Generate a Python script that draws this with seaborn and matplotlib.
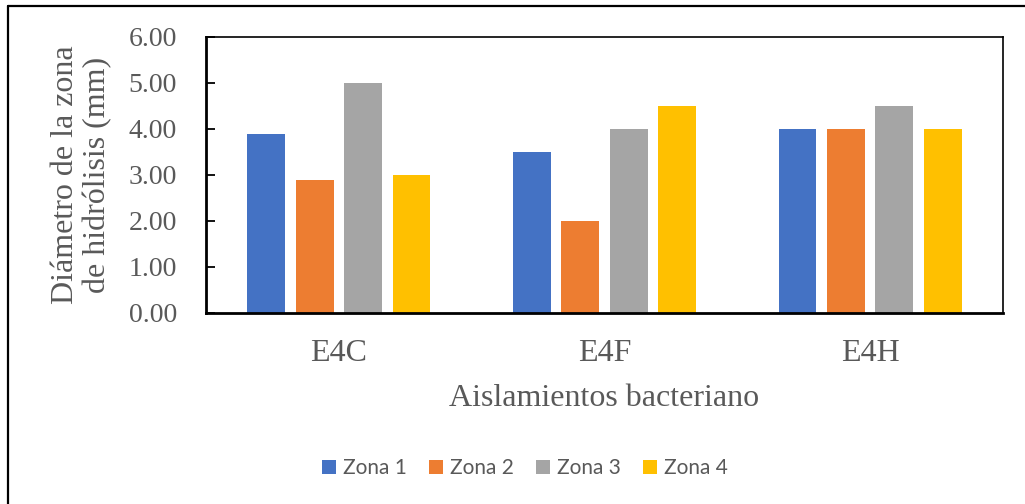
from __future__ import annotations

import matplotlib

matplotlib.use("Agg")
import matplotlib.pyplot as plt
import pandas as pd
import seaborn as sns
from matplotlib.lines import Line2D
from matplotlib.ticker import FormatStrFormatter

OUT_FILE = "out.png"

ISOLATES = ["E4C", "E4F", "E4H"]
ZONES = ["Zona 1", "Zona 2", "Zona 3", "Zona 4"]
ZONA_1 = [3.9, 3.5, 4.0]
ZONA_2 = [2.9, 2.0, 4.0]
ZONA_3 = [5.0, 4.0, 4.5]
ZONA_4 = [3.0, 4.5, 4.0]
Y_TICKS = [0, 1, 2, 3, 4, 5, 6]

COLORS = ["#4472C4", "#ED7D31", "#A5A5A5", "#FFC000"]
TEXT_GREY = "#595959"
SERIF = ["Liberation Serif", "DejaVu Serif"]


def build_data() -> pd.DataFrame:
    rows = []
    for zone, values in zip(ZONES, [ZONA_1, ZONA_2, ZONA_3, ZONA_4]):
        for isolate, value in zip(ISOLATES, values):
            rows.append({"aislamiento": isolate, "zona": zone, "diametro": value})
    return pd.DataFrame(rows)


def draw_chart(data: pd.DataFrame):
    sns.set_theme(style="white")
    plt.rcParams["font.family"] = SERIF

    fig = plt.figure(figsize=(10.25, 5.04), dpi=100)
    ax = fig.add_axes([206 / 1025, 1 - 313 / 504, 797 / 1025, 276 / 504])

    sns.barplot(
        data=data,
        x="aislamiento",
        y="diametro",
        hue="zona",
        order=ISOLATES,
        hue_order=ZONES,
        palette=COLORS,
        width=0.73,
        gap=0.22,
        linewidth=0,
        saturation=1,
        errorbar=None,
        ax=ax,
    )

    ax.set_ylim(0, 6)
    ax.set_yticks(Y_TICKS)
    ax.yaxis.set_major_formatter(FormatStrFormatter("%.2f"))
    ax.set_xlim(-0.5, 2.5)

    for side, lw in [("left", 2.0), ("bottom", 2.0), ("top", 1.2), ("right", 1.2)]:
        ax.spines[side].set_visible(True)
        ax.spines[side].set_color("black")
        ax.spines[side].set_linewidth(lw)

    ax.tick_params(axis="y", direction="in", length=6.5, width=1.3, color="black",
                   pad=21, labelsize=20, labelcolor=TEXT_GREY, left=True)
    ax.tick_params(axis="x", length=0, pad=19, labelsize=23, labelcolor=TEXT_GREY)

    ax.set_xlabel("Aislamientos bacteriano", fontsize=23, color=TEXT_GREY, labelpad=11)
    ax.set_ylabel("Diámetro de la zona\nde hidrólisis (mm)", fontsize=23,
                  color=TEXT_GREY, labelpad=12, linespacing=1.12)

    sns.move_legend(
        ax,
        "center",
        bbox_to_anchor=(525 / 1025, 1 - 468.5 / 504),
        bbox_transform=fig.transFigure,
        ncol=4,
        title=None,
        frameon=False,
        prop={"family": ["Lato", "DejaVu Sans"], "size": 15},
        labelcolor=TEXT_GREY,
        handlelength=0.67,
        handleheight=0.67,
        handletextpad=0.3,
        columnspacing=1.1,
    )

    # outer chart border (top and left edges visible in the reference)
    fig.add_artist(Line2D([7.5 / 1025, 7.5 / 1025], [0, 1 - 5.5 / 504],
                          transform=fig.transFigure, color="black", linewidth=1.6))
    fig.add_artist(Line2D([7.5 / 1025, 1], [1 - 5.5 / 504, 1 - 5.5 / 504],
                          transform=fig.transFigure, color="black", linewidth=1.6))

    fig.savefig(OUT_FILE, dpi=100, facecolor="white")
    plt.close(fig)


def main():
    data = build_data()
    draw_chart(data)


if __name__ == "__main__":
    main()
